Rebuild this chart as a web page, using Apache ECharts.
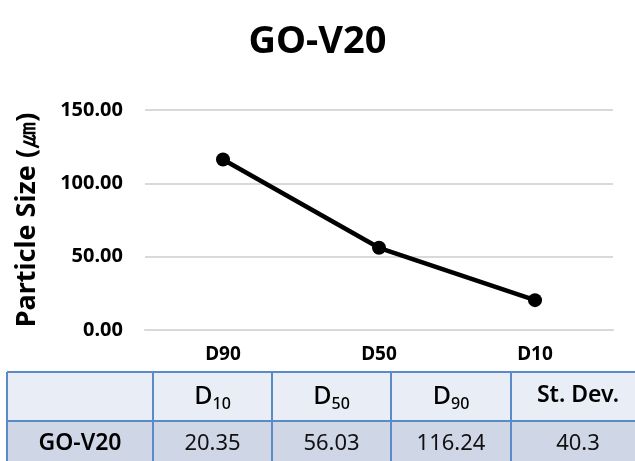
<!DOCTYPE html>
<html>
<head>
<meta charset="utf-8">
<script src="https://cdn.jsdelivr.net/npm/echarts@6/dist/echarts.min.js"></script>
<style>
  html, body { margin: 0; padding: 0; background: #fff; }
  #main { width: 635px; height: 461px; }
</style>
</head>
<body>
<div id="main"></div>
<script>
var titleText = 'GO-V20';
var categories = ['D90', 'D50', 'D10'];
var sizeValues = [116.24, 56.03, 20.35];
var yTicks = [0, 50, 100, 150];

// table below the chart
var tableHead = [['D', '10'], ['D', '50'], ['D', '90'], ['St. Dev.', '']];
var tableRowName = 'GO-V20';
var tableRow = ['20.35', '56.03', '116.24', '40.3'];

var FONT = '"Noto Sans", sans-serif';
var myChart = echarts.init(document.getElementById('main'));

// 表格
var colX = [7, 153, 272, 391, 511, 645];
var rowY = [372, 421, 472];
var border = '#5b8ac8';

function buildTable() {
    var els = [];
    // backgrounds
    els.push({ type: 'rect', shape: { x: colX[0], y: rowY[0], width: colX[5] - colX[0], height: rowY[1] - rowY[0] }, style: { fill: '#e9edf5' }, z: 10 });
    els.push({ type: 'rect', shape: { x: colX[0], y: rowY[1], width: colX[5] - colX[0], height: rowY[2] - rowY[1] }, style: { fill: '#cfd6e6' }, z: 10 });
    // lines
    for (var i = 0; i < rowY.length; i++) {
        els.push({ type: 'line', shape: { x1: colX[0], y1: rowY[i], x2: colX[5], y2: rowY[i] }, style: { stroke: border, lineWidth: 2 }, z: 11 });
    }
    for (var j = 0; j < colX.length; j++) {
        els.push({ type: 'line', shape: { x1: colX[j], y1: rowY[0], x2: colX[j], y2: rowY[2] }, style: { stroke: border, lineWidth: 2 }, z: 11 });
    }
    // header (first column empty)
    for (var k = 0; k < tableHead.length; k++) {
        var cx = (colX[k + 1] + colX[k + 2]) / 2;
        var h = tableHead[k];
        if (h[1]) {
            els.push({
                type: 'text', x: cx, y: (rowY[0] + rowY[1]) / 2 + 2, z: 12,
                style: {
                    text: '{m|' + h[0] + '}{s|' + h[1] + '}', align: 'center', verticalAlign: 'middle',
                    rich: {
                        m: { fontFamily: FONT, fontSize: 25, fontWeight: 500, fill: '#000', lineHeight: 28, verticalAlign: 'top' },
                        s: { fontFamily: FONT, fontSize: 16, fontWeight: 500, fill: '#000', lineHeight: 28, verticalAlign: 'bottom', padding: [12, 0, 0, 0] }
                    }
                }
            });
        } else {
            els.push({
                type: 'text', x: cx, y: (rowY[0] + rowY[1]) / 2 - 1, z: 12,
                style: { text: h[0], align: 'center', verticalAlign: 'middle', fontFamily: FONT, fontSize: 23, fontWeight: 600, fill: '#000' }
            });
        }
    }
    // data row
    var dy = (rowY[1] + 466) / 2;
    els.push({
        type: 'text', x: (colX[0] + colX[1]) / 2, y: dy, z: 12,
        style: { text: tableRowName, align: 'center', verticalAlign: 'middle', fontFamily: FONT, fontSize: 23, fontWeight: 600, fill: '#000' }
    });
    for (var m = 0; m < tableRow.length; m++) {
        els.push({
            type: 'text', x: (colX[m + 1] + colX[m + 2]) / 2, y: dy, z: 12,
            style: { text: tableRow[m], align: 'center', verticalAlign: 'middle', fontFamily: FONT, fontSize: 22, fill: '#111' }
        });
    }
    return els;
}

var option = {
    animation: false,
    title: {
        text: titleText,
        left: 'center',
        top: 18,
        textStyle: { fontFamily: FONT, fontSize: 38, fontWeight: 'bold', color: '#000' }
    },
    grid: { left: 145, right: 22, top: 110, bottom: 131 },
    xAxis: {
        type: 'category',
        data: categories,
        boundaryGap: true,
        axisLine: { show: true, lineStyle: { color: '#d9d9d9', width: 2 } },
        axisTick: { show: false },
        axisLabel: { fontFamily: FONT, fontSize: 19, fontWeight: 'bold', color: '#000', margin: 15 }
    },
    yAxis: {
        type: 'value',
        min: yTicks[0],
        max: yTicks[yTicks.length - 1],
        interval: 50,
        name: 'Particle Size (㎛)',
        nameLocation: 'middle',
        nameGap: 104,
        nameTextStyle: { fontFamily: FONT, fontSize: 27, fontWeight: 'bold', color: '#000' },
        axisLine: { show: false },
        axisTick: { show: false },
        axisLabel: {
            fontFamily: FONT, fontSize: 20, fontWeight: 'bold', color: '#000', margin: 22,
            formatter: function (v) { return v.toFixed(2); }
        },
        splitLine: { lineStyle: { color: '#d9d9d9', width: 2 } }
    },
    series: [{
        type: 'line',
        data: sizeValues,
        symbol: 'circle',
        symbolSize: 14,
        lineStyle: { color: '#000', width: 4.5 },
        itemStyle: { color: '#000' }
    }],
    graphic: buildTable()
};

myChart.setOption(option);
</script>
</body>
</html>
